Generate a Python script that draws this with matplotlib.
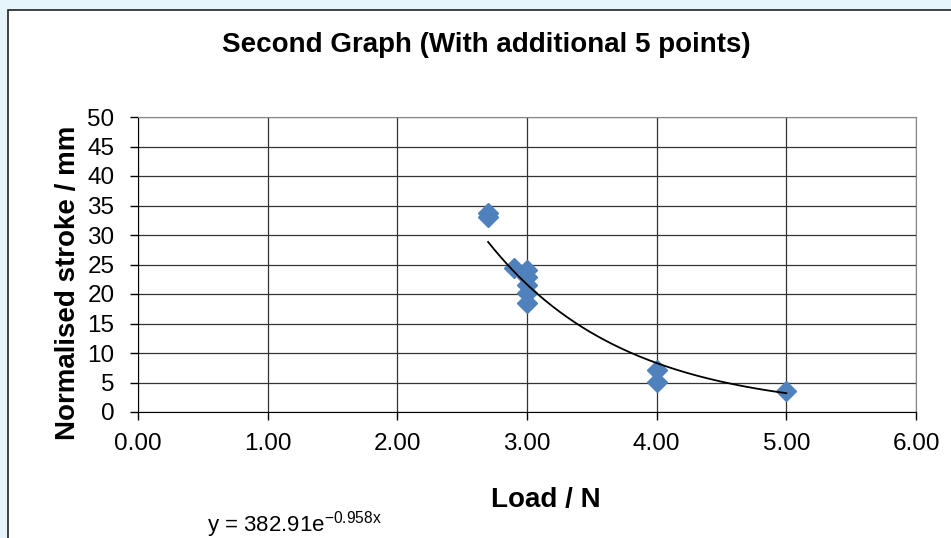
import numpy as np
import matplotlib.pyplot as plt
from matplotlib.patches import Rectangle

plt.rcParams['font.family'] = ['Liberation Sans', 'DejaVu Sans']

# measured load / normalised stroke
load = [2.7, 2.7, 2.9, 3.0, 3.0, 3.0, 3.0, 3.0, 4.0, 4.0, 5.0]
stroke = [33.8, 33.0, 24.4, 24.0, 22.8, 21.5, 20.2, 18.4, 7.1, 5.1, 3.6]

# exponential trendline y = a * exp(b x)
fit_a = 382.91
fit_b = -0.958

W, H = 951, 538
fig = plt.figure(figsize=(W / 100, H / 100), dpi=100, facecolor='#e6f5fc')

# chart frame
fig.patches.append(Rectangle((8 / W, -0.1), 1.1, 1 - 10 / H + 0.1, transform=fig.transFigure,
                             facecolor='white', edgecolor='#222222', linewidth=1.2, zorder=-5))

ax = fig.add_axes([138 / W, 1 - 412 / H, (916 - 138) / W, (412 - 117) / H])
ax.set_zorder(2)
ax.set_facecolor('white')

xs = np.linspace(min(load), max(load), 200)
ax.plot(xs, fit_a * np.exp(fit_b * xs), color='black', linewidth=1.3, zorder=3)
ax.plot(load, stroke, linestyle='none', marker='D', markersize=10.5,
        color='#4f81bd', markeredgecolor='#4f81bd', zorder=2)

ax.set_xlim(0, 6)
ax.set_ylim(0, 50)
ax.set_xticks(np.arange(0, 7, 1))
ax.set_xticklabels([f'{v:.2f}' for v in np.arange(0, 7, 1)])
ax.set_yticks(np.arange(0, 55, 5))
ax.grid(True, color='#333333', linewidth=0.9)
ax.set_axisbelow(True)
ax.tick_params(axis='both', labelsize=17.5, length=6, width=1, color='black')
ax.tick_params(axis='y', pad=11)
ax.tick_params(axis='x', pad=9)
for side in ['top', 'right']:
    ax.spines[side].set_color('#888888')
for side in ['left', 'bottom']:
    ax.spines[side].set_color('black')

fig.text(486 / W, 1 - 45 / H, 'Second Graph (With additional 5 points)', fontsize=20,
         fontweight='bold', ha='center', va='center')
fig.text(68 / W, 1 - 283 / H, 'Normalised stroke / mm', fontsize=20, fontweight='bold',
         rotation=90, ha='center', va='center')
fig.text(546 / W, 1 - 500 / H, 'Load / N', fontsize=20, fontweight='bold',
         ha='center', va='center')

fig.text(207 / W, 1 - 531 / H, 'y = 382.91e$^{\\mathregular{-0.958x}}$', fontsize=16)

fig.savefig('out.png', dpi=100, facecolor=fig.get_facecolor())
